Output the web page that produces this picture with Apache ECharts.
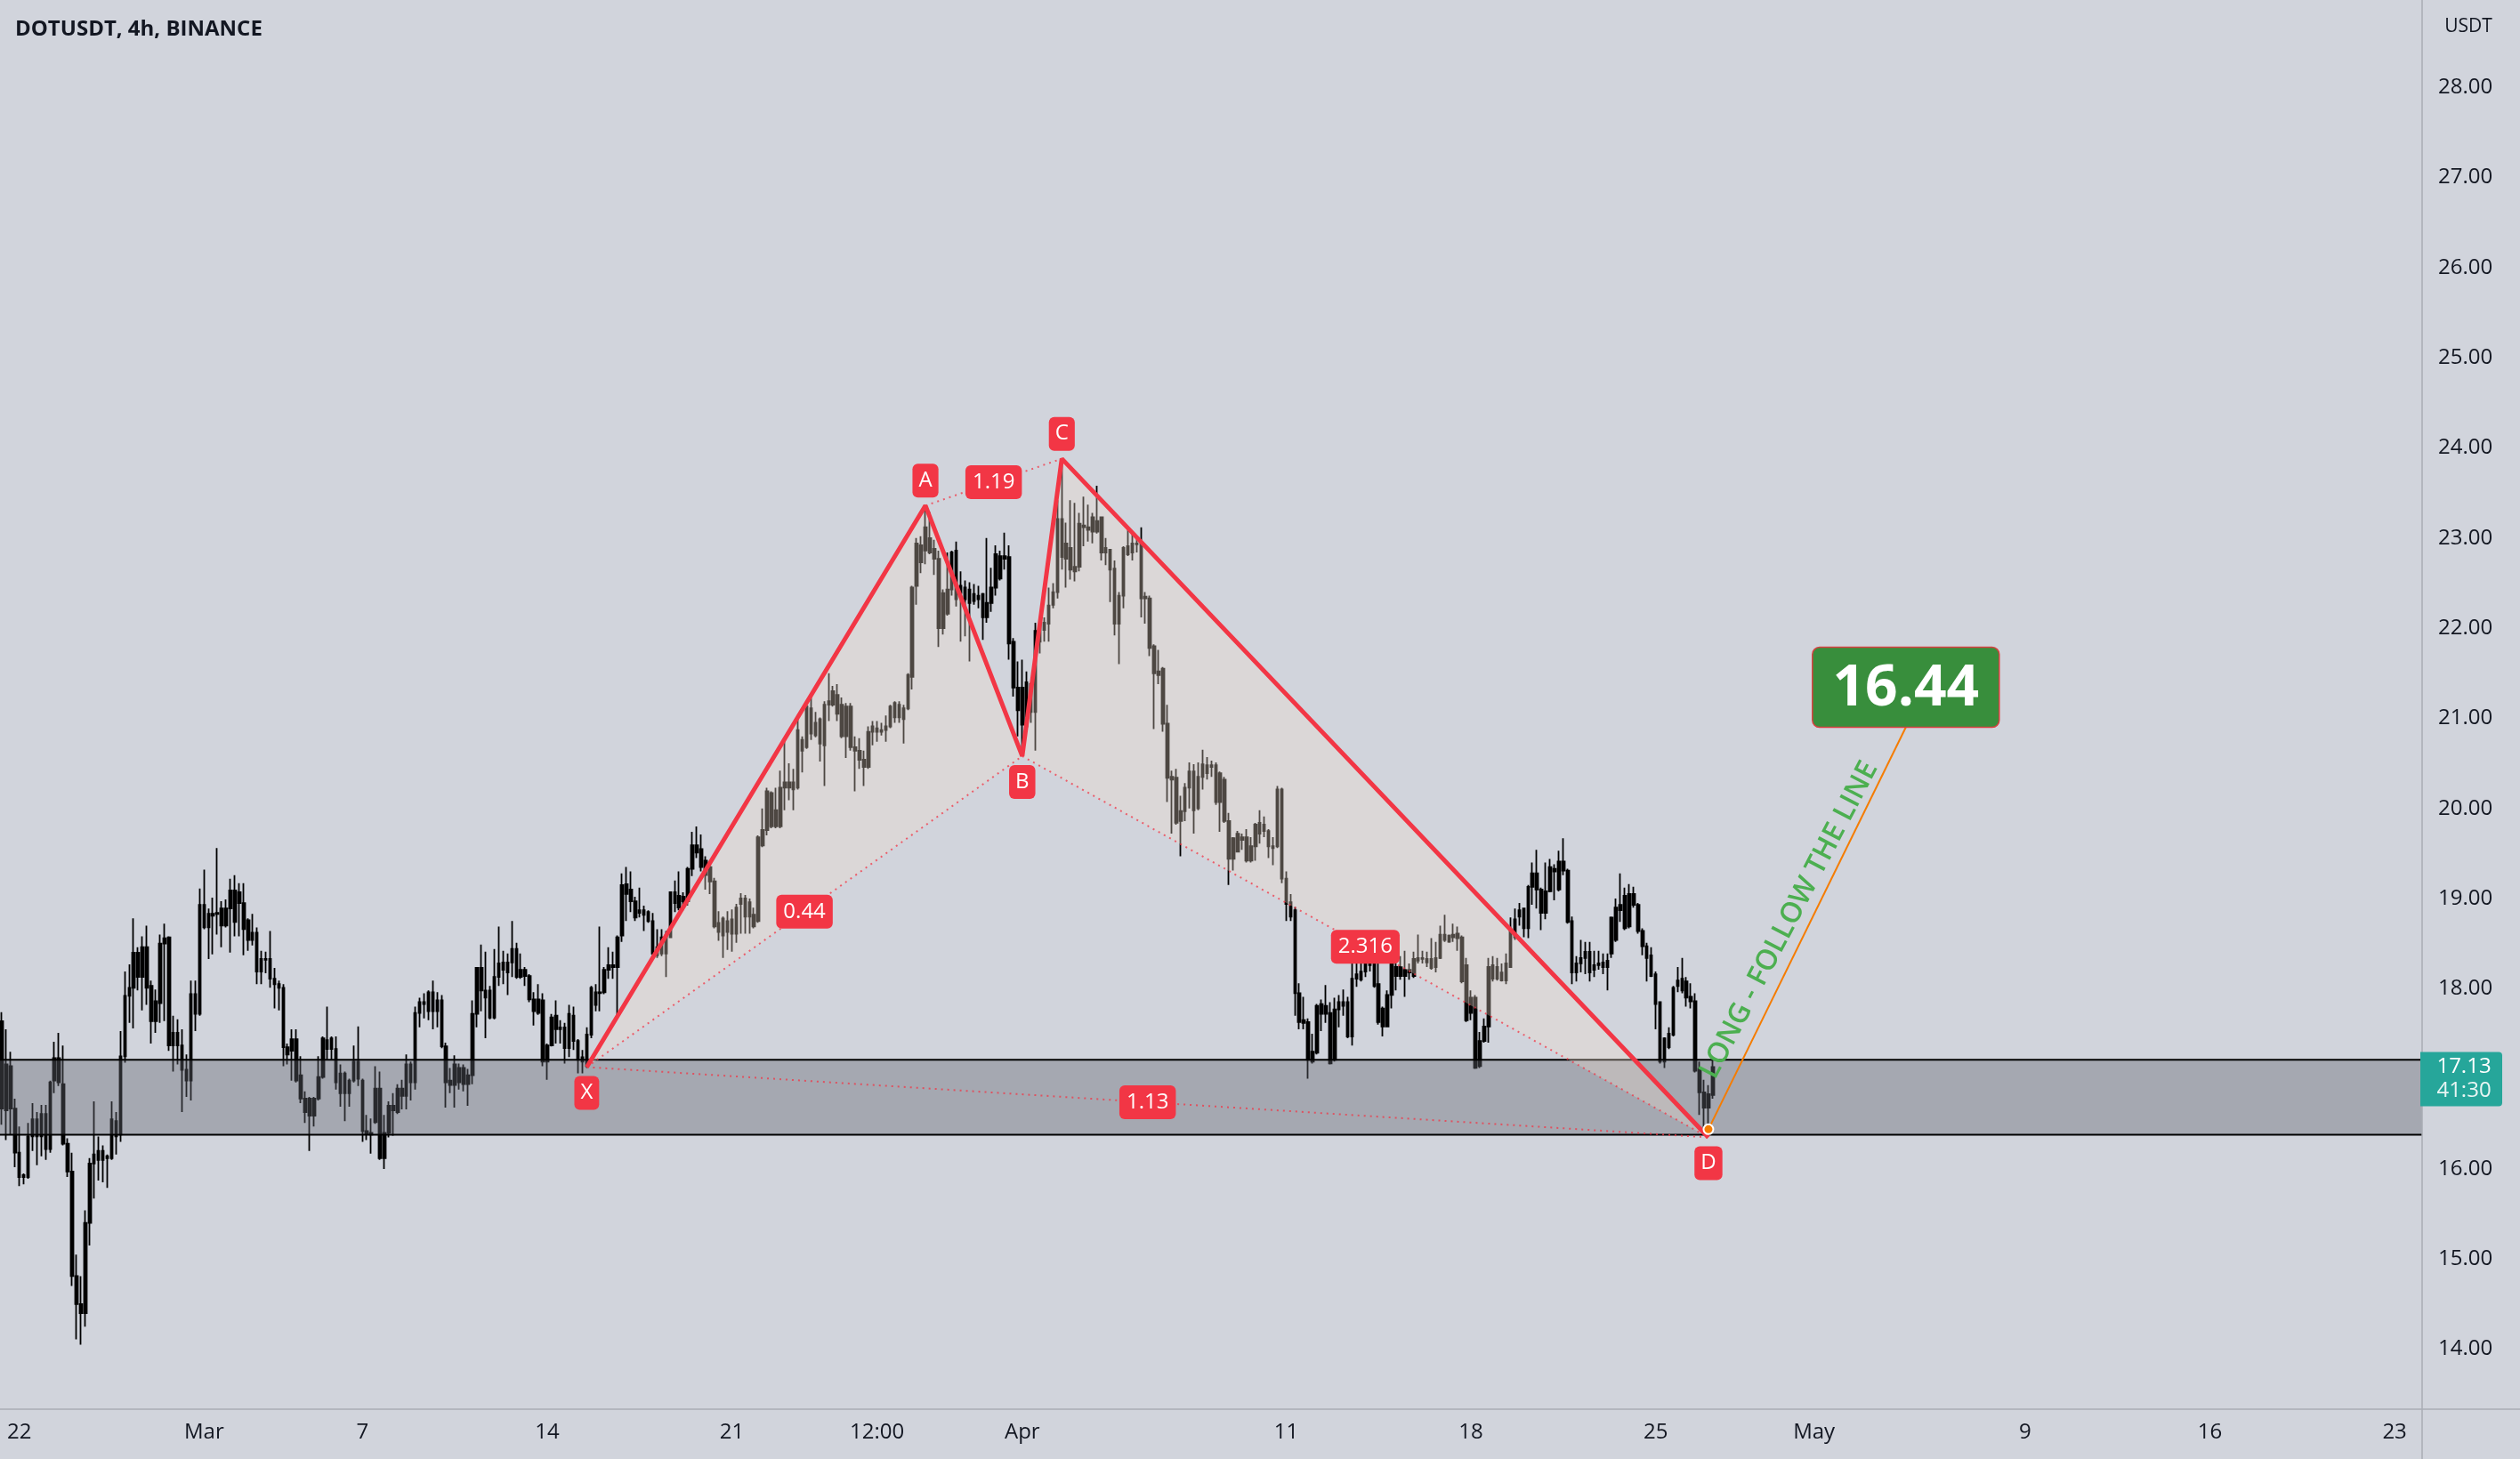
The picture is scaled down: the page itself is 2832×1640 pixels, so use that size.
<!DOCTYPE html>
<html>
<head>
<meta charset="utf-8">
<script src="https://cdn.jsdelivr.net/npm/echarts@6/dist/echarts.min.js"></script>
<style>
html,body{margin:0;padding:0;background:#d1d4dc;}
#chart{width:2832px;height:1640px;}
</style>
</head>
<body>
<div id="chart"></div>
<script>
// ---------------- DATA ----------------
// 4h candles, first one starts 2022-02-21 08:00. Every candle is drawn in black,
// so the body is stored as its top and bottom edge.
const firstCandleTime = '2022-02-21T08:00';
const candleHours = 4;

const highs = [
17.74,17.55,17.30,16.78,16.47,15.95,16.51,16.73,16.63,16.71,
16.71,16.98,17.41,17.51,17.37,16.34,16.18,15.05,14.81,15.54,
16.12,16.75,16.36,16.26,16.16,16.75,16.63,17.53,18.19,18.27,
18.78,18.46,18.58,18.70,18.09,17.99,18.60,18.72,18.58,17.70,
17.66,17.55,17.27,18.09,18.09,19.11,19.32,18.89,19.01,19.56,
18.97,18.99,19.22,19.26,19.17,19.17,18.78,18.83,18.68,18.42,
18.41,18.64,18.23,18.09,18.05,17.39,17.55,17.55,17.25,16.86,
16.80,16.80,17.25,17.47,17.80,17.47,17.47,17.16,17.08,17.00,
17.37,17.58,17.00,16.60,16.56,17.14,17.08,16.60,16.75,16.84,
16.94,16.99,17.27,17.19,17.80,17.90,17.95,17.98,18.09,17.96,
17.93,17.40,17.12,17.26,17.17,17.16,17.11,17.87,18.24,18.49,
18.41,18.03,18.44,18.69,18.42,18.39,18.75,18.51,18.39,18.24,
18.16,17.96,18.05,17.95,17.39,17.72,17.87,17.65,17.62,17.82,
17.80,17.44,17.32,17.57,18.03,18.05,18.69,18.24,18.46,18.41,
18.59,19.28,19.35,19.30,19.02,19.12,18.92,18.87,18.84,18.66,
18.66,18.64,19.08,19.20,19.30,19.07,19.35,19.74,19.80,19.71,
19.47,19.37,19.23,18.86,18.80,18.86,18.88,18.94,19.06,19.04,
19.00,18.90,19.70,20.00,20.23,20.19,20.23,20.42,20.76,20.50,
20.44,20.99,20.80,21.15,21.24,21.07,21.01,21.19,21.50,21.36,
21.38,21.23,21.17,21.17,20.80,20.78,20.64,20.91,20.97,20.97,
20.95,21.03,21.15,21.19,21.19,21.15,21.50,22.47,23.00,23.02,
23.36,23.29,22.98,22.86,22.43,22.84,22.86,22.96,22.63,22.53,
22.51,22.49,22.47,22.39,23.00,22.67,22.92,22.86,23.06,22.92,
21.89,21.63,21.65,21.52,21.40,22.06,22.10,22.12,22.45,22.50,
23.42,23.88,23.17,23.42,23.39,23.28,23.46,23.37,23.28,23.58,
23.24,23.00,22.88,22.75,22.40,22.91,23.10,23.05,23.02,23.12,
22.40,22.36,21.82,21.76,21.57,21.15,20.42,20.44,20.14,20.28,
20.51,20.49,20.51,20.65,20.57,20.53,20.51,20.41,20.35,19.95,
19.68,19.75,19.72,19.77,19.68,19.84,19.98,19.91,19.77,19.68,
20.25,20.23,19.30,19.05,18.91,18.06,17.91,17.67,17.50,17.83,
17.88,18.04,17.85,17.90,17.93,17.99,17.91,18.29,18.28,18.29,
18.48,18.42,18.39,18.41,17.80,17.98,18.29,18.31,18.36,18.42,
18.28,18.41,18.60,18.42,18.41,18.56,18.52,18.70,18.82,18.60,
18.72,18.69,18.59,18.34,17.98,17.93,17.52,17.67,18.34,18.36,
18.34,18.28,18.39,18.79,18.89,18.95,18.90,19.15,19.40,19.54,
19.12,19.40,19.44,19.38,19.53,19.67,19.33,18.80,18.36,18.54,
18.52,18.52,18.42,18.42,18.39,18.39,18.80,19.00,19.28,19.12,
19.16,19.13,18.95,18.67,18.51,18.46,18.19,17.86,17.46,17.57,
18.03,18.24,18.34,18.13,18.06,17.95,17.19,16.99,16.93,17.21];

const bodyTop = [
17.64,17.16,17.14,16.67,16.18,15.93,16.36,16.55,16.55,16.61,
16.61,16.96,17.23,17.23,16.94,16.28,15.97,14.81,14.50,15.40,
16.06,16.16,16.20,16.20,16.14,16.55,16.53,17.25,17.92,18.01,
18.40,18.40,18.46,18.46,18.03,17.86,18.50,18.56,18.57,17.51,
17.51,17.37,17.10,17.94,17.94,18.93,18.93,18.83,18.83,18.84,
18.89,18.89,19.09,19.09,19.07,18.95,18.76,18.62,18.62,18.33,
18.33,18.33,18.11,18.05,18.01,17.35,17.44,17.44,17.04,16.78,
16.78,16.78,17.02,17.45,17.43,17.45,17.33,17.06,17.06,16.98,
17.19,17.19,16.98,16.42,16.40,16.89,16.89,16.40,16.70,16.70,
16.89,16.89,17.16,17.16,17.73,17.85,17.85,17.96,17.96,17.87,
17.87,17.36,16.98,17.16,17.12,17.12,17.04,17.72,18.23,18.23,
17.98,17.98,18.13,18.28,18.29,18.29,18.44,18.44,18.21,18.21,
18.14,17.88,17.88,17.87,17.37,17.68,17.70,17.57,17.57,17.72,
17.70,17.42,17.24,17.49,18.01,17.96,17.96,18.21,18.26,18.26,
18.57,19.15,19.16,19.10,18.97,18.87,18.87,18.85,18.75,18.46,
18.57,18.59,19.07,19.07,19.03,19.02,19.33,19.59,19.59,19.55,
19.42,19.35,19.19,18.73,18.78,18.75,18.77,18.90,19.00,19.00,
18.96,18.82,19.68,19.76,20.19,20.17,19.98,20.23,20.29,20.29,
20.29,20.87,20.76,21.13,21.11,20.95,20.99,21.15,21.19,21.30,
21.26,21.15,21.13,21.13,20.68,20.64,20.54,20.85,20.91,20.89,
20.87,20.91,21.13,21.17,21.15,21.11,21.48,22.45,22.94,22.92,
23.12,23.00,22.88,22.77,22.39,22.43,22.84,22.86,22.47,22.45,
22.43,22.38,22.36,22.38,22.28,22.45,22.82,22.80,22.80,22.79,
21.85,21.34,21.34,21.40,21.38,21.97,22.04,22.06,22.25,22.40,
23.21,23.21,22.94,22.89,22.68,23.16,23.14,23.12,23.23,23.19,
23.23,22.89,22.87,22.66,22.36,22.89,22.91,22.94,22.94,22.94,
22.35,22.33,21.80,21.52,21.55,20.94,20.35,20.34,19.97,20.23,
20.41,20.41,20.35,20.49,20.48,20.48,20.48,20.39,20.32,19.86,
19.67,19.72,19.68,19.68,19.58,19.82,19.84,19.82,19.75,19.58,
20.21,20.21,19.22,18.96,18.87,17.95,17.65,17.63,17.30,17.81,
17.83,17.81,17.73,17.77,17.85,17.85,17.85,18.11,18.16,18.19,
18.37,18.31,18.31,18.05,17.78,17.93,18.28,18.24,18.24,18.21,
18.21,18.33,18.34,18.34,18.33,18.33,18.34,18.60,18.60,18.59,
18.60,18.61,18.57,18.26,17.90,17.90,17.42,17.58,18.24,18.26,
18.24,18.18,18.28,18.64,18.77,18.87,18.89,19.13,19.28,19.28,
19.10,19.08,19.35,19.33,19.41,19.41,19.31,18.75,18.28,18.34,
18.41,18.41,18.26,18.28,18.29,18.31,18.79,18.90,18.93,19.03,
19.05,19.05,18.93,18.64,18.47,18.37,18.16,17.85,17.45,17.50,
18.01,18.09,18.11,18.08,17.91,17.86,17.11,16.85,16.83,17.13];

const bodyBottom = [
16.67,16.65,16.67,16.18,15.91,15.91,15.91,16.36,16.36,16.36,
16.22,16.22,16.98,16.96,16.28,15.97,14.81,14.50,14.40,14.40,
15.40,16.06,16.10,16.10,16.12,16.12,16.36,16.38,17.25,17.92,
18.01,18.13,18.13,18.01,17.64,17.64,17.84,18.50,17.37,17.37,
17.37,17.10,16.98,16.98,17.72,17.72,18.68,18.68,18.81,18.83,
18.70,18.70,18.89,18.74,18.95,18.66,18.54,18.54,18.19,18.19,
18.32,18.11,18.05,18.01,17.35,17.27,17.31,16.98,16.78,16.63,
16.59,16.59,16.78,17.02,17.33,17.33,16.96,16.84,16.84,16.84,
16.98,17.00,16.42,16.39,16.38,16.52,16.12,16.12,16.40,16.65,
16.63,16.81,16.81,16.96,16.96,17.73,17.83,17.75,17.75,17.75,
17.36,16.96,16.93,16.93,16.96,16.94,16.94,17.04,17.72,17.98,
17.90,17.68,17.68,18.13,18.21,18.18,18.29,18.13,18.13,18.14,
17.88,17.75,17.73,17.19,17.19,17.37,17.55,17.55,17.34,17.34,
17.42,17.21,17.19,17.14,17.49,17.82,17.95,17.96,18.21,18.24,
18.24,18.59,19.05,18.97,18.79,18.84,18.82,18.75,18.39,18.37,
18.39,18.39,18.57,18.95,18.90,18.97,18.97,19.33,19.51,19.35,
19.26,19.19,18.69,18.63,18.59,18.63,18.61,18.61,18.94,18.80,
18.80,18.69,18.75,19.59,19.76,19.80,19.80,19.80,20.23,20.23,
20.21,20.23,20.64,20.68,20.83,20.81,20.72,20.70,21.15,21.15,
21.05,20.80,20.80,20.68,20.64,20.54,20.46,20.46,20.85,20.85,
20.85,20.87,20.91,21.01,21.01,20.99,21.11,21.46,22.47,22.73,
22.86,22.84,22.77,22.00,22.00,22.16,22.43,22.32,22.39,22.32,
22.28,22.30,22.32,22.12,22.12,22.28,22.45,22.55,22.77,21.83,
21.34,21.09,20.93,20.91,21.07,21.07,21.85,21.98,22.05,22.26,
22.40,22.79,22.77,22.65,22.63,22.68,23.12,23.09,23.07,23.07,
22.84,22.84,22.65,22.05,22.05,22.36,22.82,22.84,22.93,22.33,
22.33,21.78,21.50,21.48,20.94,20.34,20.32,19.84,19.86,19.97,
20.23,19.98,20.00,20.35,20.39,20.46,20.07,20.07,19.86,19.44,
19.44,19.52,19.65,19.42,19.42,19.58,19.72,19.75,19.58,19.56,
19.58,19.22,18.94,18.80,17.95,17.63,17.62,17.21,17.19,17.29,
17.72,17.72,17.17,17.21,17.77,17.81,17.47,17.47,18.11,18.10,
18.19,18.26,18.03,17.63,17.58,17.58,17.93,18.14,18.14,18.14,
18.18,18.14,18.31,18.33,18.29,18.23,18.24,18.34,18.54,18.52,
18.57,18.56,18.08,17.65,17.73,17.12,17.14,17.42,17.58,18.11,
18.11,18.09,18.09,18.24,18.57,18.80,18.67,18.67,19.13,19.10,
18.84,18.84,19.08,19.30,19.10,19.31,18.74,18.18,18.18,18.28,
18.34,18.18,18.21,18.26,18.24,18.24,18.39,18.54,18.87,18.67,
18.69,18.93,18.64,18.47,18.34,18.14,17.83,17.19,17.19,17.35,
17.49,18.03,17.98,17.90,17.86,17.09,16.85,16.68,16.68,16.82];

const lows = [
16.49,16.32,16.38,16.02,15.81,15.83,15.89,16.20,16.04,16.14,
16.10,16.18,16.84,16.92,16.26,15.91,14.70,14.11,14.05,14.25,
15.15,15.67,15.87,15.85,15.79,16.10,16.16,16.30,17.18,17.62,
17.56,17.98,17.76,17.82,17.39,17.51,17.62,17.64,17.31,17.08,
17.16,16.63,16.80,16.76,17.53,17.70,18.66,18.33,18.38,18.60,
18.46,18.68,18.40,18.58,18.58,18.37,18.42,18.48,18.05,18.05,
18.17,18.01,17.78,17.76,17.14,17.16,16.98,16.96,16.73,16.51,
16.20,16.47,16.76,17.00,17.21,17.21,16.88,16.69,16.53,16.69,
16.96,16.92,16.30,16.32,16.17,16.50,16.10,16.00,16.35,16.37,
16.61,16.66,16.66,16.76,16.88,17.57,17.67,17.65,17.55,17.57,
17.34,16.68,16.84,16.68,16.88,16.86,16.70,16.94,17.57,17.75,
17.45,17.66,17.66,18.03,18.05,17.93,18.13,18.11,18.11,18.03,
17.85,17.59,17.71,17.14,16.99,17.36,17.39,17.39,17.17,17.24,
17.32,17.06,17.06,17.12,17.45,17.75,17.75,17.94,18.11,18.11,
17.70,18.52,18.75,18.85,18.75,18.79,18.64,18.73,18.37,18.34,
18.36,18.13,18.56,18.85,18.87,18.87,18.92,19.25,19.45,19.30,
19.10,19.05,18.67,18.53,18.34,18.43,18.41,18.51,18.61,18.61,
18.61,18.67,18.73,19.57,19.70,19.78,19.78,19.78,19.98,20.09,
19.98,20.21,20.40,20.66,20.76,20.79,20.52,20.25,20.97,21.13,
20.97,20.78,20.56,20.64,20.19,20.44,20.25,20.44,20.70,20.74,
20.81,20.74,20.89,20.95,20.95,20.72,21.09,21.32,22.26,22.61,
22.71,22.82,22.59,21.79,21.93,22.14,22.36,22.24,21.85,21.91,
21.63,22.26,22.22,21.87,22.06,22.18,22.36,22.53,22.65,21.65,
21.24,20.80,20.58,20.89,20.95,20.64,21.72,21.85,21.85,22.22,
22.33,22.65,22.45,22.54,22.52,22.63,22.91,22.96,22.94,23.05,
22.75,22.70,22.29,21.92,21.60,22.22,22.80,22.75,22.84,22.12,
22.05,21.69,20.88,21.38,20.85,20.07,19.72,19.82,19.47,19.86,
20.00,19.72,19.98,20.21,20.32,20.35,20.04,19.74,19.84,19.15,
19.31,19.51,19.54,19.40,19.40,19.42,19.61,19.68,19.45,19.37,
19.56,19.17,18.75,18.75,17.70,17.55,17.55,17.00,17.17,17.27,
17.53,17.62,17.16,17.19,17.57,17.70,17.45,17.37,18.02,18.08,
18.13,18.19,18.01,17.60,17.47,17.57,17.78,17.98,18.10,17.91,
18.10,18.12,18.28,18.28,18.24,18.21,18.18,18.33,18.52,18.51,
18.52,18.42,18.06,17.63,17.65,17.11,17.12,17.40,17.40,18.08,
18.09,18.08,18.05,18.23,18.54,18.70,18.57,18.56,18.93,18.89,
18.65,18.77,19.07,18.98,19.08,19.26,18.72,18.05,18.08,18.18,
18.16,18.08,18.13,18.21,18.16,17.98,18.34,18.52,18.74,18.65,
18.67,18.90,18.61,18.37,18.08,18.13,17.55,17.17,17.12,17.33,
17.47,17.96,17.95,17.80,17.78,17.07,16.60,16.42,16.46,16.78];

const lastPrice = 17.13;
const countdown = '41:30';

// price scale tick labels (17.00 is hidden under the last-price tag)
const yTickValues = [14, 15, 16, 18, 19, 20, 21, 22, 23, 24, 25, 26, 27, 28];
// time scale tick labels
const xTickTimes = ['2022-02-22T00:00','2022-03-01T00:00','2022-03-07T00:00','2022-03-14T00:00',
  '2022-03-21T00:00','2022-03-26T12:00','2022-04-01T00:00','2022-04-11T00:00','2022-04-18T00:00',
  '2022-04-25T00:00','2022-05-01T00:00','2022-05-09T00:00','2022-05-16T00:00','2022-05-23T00:00'];
const xTickLabels = ['22','Mar','7','14','21','12:00','Apr','11','18','25','May','9','16','23'];

// XABCD pattern
const patternNames  = ['X', 'A', 'B', 'C', 'D'];
const patternTimes  = ['2022-03-15T12:00','2022-03-28T08:00','2022-04-01T00:00','2022-04-02T12:00','2022-04-27T00:00'];
const patternPrices = [17.13, 23.36, 20.58, 23.88, 16.35];
const ratioFrom   = [0, 1, 2, 0];
const ratioTo     = [2, 3, 4, 4];
const ratioLabels = ['0.44', '1.19', '2.316', '1.13'];

// support zone
const zoneTop = 17.21;
const zoneBottom = 16.38;

// projection line + target tag + note
const entryTime = '2022-04-27T00:00';
const entryPrice = 16.44;
const targetTime = '2022-05-04T11:30';
const targetPrice = 20.90;
const targetText = '16.44';
const noteText = 'LONG - FOLLOW THE LINE';
const noteTime = '2022-04-30T01:30';
const notePrice = 18.76;

// visible window
const viewStartDay = -0.7316, viewEndDay = 91.041;
const viewMinPrice = 13.334, viewMaxPrice = 28.970;

// ---------------- helpers ----------------
const FONT = '"Open Sans", "Noto Sans", sans-serif';
const ORIGIN = Date.UTC(2022, 1, 22);
const dayOf = s => (Date.parse(s + ':00Z') - ORIGIN) / 86400000;
const firstDay = dayOf(firstCandleTime);
const stepDay = candleHours / 24;

const candleData = highs.map((h, i) => [firstDay + i * stepDay, bodyBottom[i], bodyTop[i], lows[i], h]);
const xTickDays = xTickTimes.map(dayOf);
const patternDays = patternTimes.map(dayOf);
const patternPts = patternDays.map((d, i) => [d, patternPrices[i]]);

const RED = '#f23645';

const chart = echarts.init(document.getElementById('chart'), null, {renderer: 'canvas'});

const option = {
  animation: false,
  backgroundColor: '#d1d4dc',
  textStyle: {fontFamily: FONT},
  grid: {left: 0, right: 110, top: 0, bottom: 56, containLabel: false},
  xAxis: {
    type: 'value', min: viewStartDay, max: viewEndDay,
    axisLine: {show: false}, axisTick: {show: false}, splitLine: {show: false},
    axisLabel: {
      customValues: xTickDays,
      formatter: v => { const k = xTickDays.findIndex(t => Math.abs(t - v) < 1e-6); return k >= 0 ? xTickLabels[k] : ''; },
      fontSize: 24, color: '#131722', fontFamily: FONT, margin: 14
    }
  },
  yAxis: {
    type: 'value', position: 'right', min: viewMinPrice, max: viewMaxPrice, scale: true,
    axisLine: {show: false}, axisTick: {show: false}, splitLine: {show: false},
    axisLabel: {
      customValues: yTickValues,
      formatter: v => v.toFixed(2),
      fontSize: 24, color: '#131722', fontFamily: FONT, margin: 18
    }
  },
  series: [
    {
      type: 'candlestick', name: 'DOTUSDT', data: candleData,
      encode: {x: 0, y: [1, 2, 3, 4]},
      barWidth: 3,
      itemStyle: {color: '#000', color0: '#000', borderColor: '#000', borderColor0: '#000', borderWidth: 1.8},
      z: 2
    },
    { // zone
      type: 'custom', name: 'zone', z: 3,
      data: [[viewStartDay, zoneTop, viewEndDay, zoneBottom]],
      encode: {x: [0, 2], y: [1, 3]},
      renderItem: (params, api) => {
        const a = api.coord([api.value(0), api.value(1)]);
        const b = api.coord([api.value(2), api.value(3)]);
        return {type: 'group', children: [
          {type: 'rect', shape: {x: a[0], y: a[1], width: b[0] - a[0], height: b[1] - a[1]}, style: {fill: 'rgba(100,102,112,0.4)'}},
          {type: 'line', shape: {x1: a[0], y1: a[1], x2: b[0], y2: a[1]}, style: {stroke: '#000', lineWidth: 2}},
          {type: 'line', shape: {x1: a[0], y1: b[1], x2: b[0], y2: b[1]}, style: {stroke: '#000', lineWidth: 2}}
        ]};
      }
    },
    { // triangle fills XAB, BCD
      type: 'custom', name: 'fills', z: 4,
      data: [[0, 1, 2], [2, 3, 4]].map(t => t.flatMap(k => patternPts[k])),
      encode: {x: [0, 2, 4], y: [1, 3, 5]},
      renderItem: (params, api) => {
        const pts = [0, 1, 2].map(k => api.coord([api.value(2 * k), api.value(2 * k + 1)]));
        return {type: 'polygon', shape: {points: pts}, style: {fill: 'rgba(240,222,205,0.32)'}};
      }
    },
    { // dotted ratio lines
      type: 'custom', name: 'ratios', z: 5,
      data: ratioFrom.map((f, i) => [...patternPts[f], ...patternPts[ratioTo[i]]]),
      encode: {x: [0, 2], y: [1, 3]},
      renderItem: (params, api) => {
        const a = api.coord([api.value(0), api.value(1)]);
        const b = api.coord([api.value(2), api.value(3)]);
        return {type: 'line', shape: {x1: a[0], y1: a[1], x2: b[0], y2: b[1]},
          style: {stroke: 'rgba(242,54,69,0.75)', lineWidth: 2, lineDash: [2, 5]}};
      }
    },
    { // pattern legs
      type: 'line', name: 'XABCD', z: 6, data: patternPts,
      symbol: 'none', lineStyle: {color: RED, width: 5}, silent: true
    },
    { // projection line
      type: 'line', name: 'projection', z: 6,
      data: [[dayOf(entryTime), entryPrice], [dayOf(targetTime), targetPrice]],
      symbol: 'none', lineStyle: {color: '#f57c00', width: 2}, silent: true
    },
    { // entry dot
      type: 'scatter', z: 7, data: [[dayOf(entryTime), entryPrice]],
      symbolSize: 11, itemStyle: {color: '#f57c00', borderColor: '#ffffff', borderWidth: 2, opacity: 1}
    },
    { // point labels
      type: 'custom', name: 'pointLabels', z: 9,
      data: patternPts.map((p, i) => [p[0], p[1], i]),
      encode: {x: 0, y: 1},
      renderItem: (params, api) => {
        const i = api.value(2);
        const c = api.coord([api.value(0), api.value(1)]);
        const prev = patternPrices[i - 1], next = patternPrices[i + 1];
        const ref = prev !== undefined ? prev : next;
        const isHigh = patternPrices[i] > ref;
        return {type: 'text', x: c[0], y: c[1] + (isHigh ? -28 : 29),
          style: {text: patternNames[i], x: 0, y: 0, align: 'center', verticalAlign: 'middle',
            fill: '#fff', fontSize: 24, fontFamily: FONT, backgroundColor: RED, padding: [7, 7, 7, 7], borderRadius: 6}};
      }
    },
    { // ratio labels
      type: 'custom', name: 'ratioLabels', z: 9,
      data: ratioFrom.map((f, i) => [(patternDays[f] + patternDays[ratioTo[i]]) / 2, (patternPrices[f] + patternPrices[ratioTo[i]]) / 2, i]),
      encode: {x: 0, y: 1},
      renderItem: (params, api) => {
        const c = api.coord([api.value(0), api.value(1)]);
        return {type: 'text', x: c[0], y: c[1],
          style: {text: ratioLabels[api.value(2)], x: 0, y: 0, align: 'center', verticalAlign: 'middle',
            fill: '#fff', fontSize: 24, fontFamily: FONT, backgroundColor: RED, padding: [7, 8, 7, 8], borderRadius: 6}};
      }
    },
    { // target tag
      type: 'custom', name: 'target', z: 9,
      data: [[dayOf(targetTime), targetPrice]],
      encode: {x: 0, y: 1},
      renderItem: (params, api) => {
        const c = api.coord([api.value(0), api.value(1)]);
        const w = 210, h = 90;
        return {type: 'group', children: [
          {type: 'rect', shape: {x: c[0] - w / 2, y: c[1] - h, width: w, height: h, r: 8},
            style: {fill: '#388e3c', stroke: '#d84040', lineWidth: 1.5}},
          {type: 'text', x: c[0], y: c[1] - h / 2 + 2,
            style: {text: targetText, x: 0, y: 0, align: 'center', verticalAlign: 'middle',
              fill: '#fff', fontSize: 64, fontWeight: 'bold', fontFamily: FONT}}
        ]};
      }
    },
    { // note
      type: 'custom', name: 'note', z: 8,
      data: [[dayOf(noteTime), notePrice]],
      encode: {x: 0, y: 1},
      renderItem: (params, api) => {
        const c = api.coord([api.value(0), api.value(1)]);
        return {type: 'text', x: c[0], y: c[1], rotation: 62.5 * Math.PI / 180,
          style: {text: noteText, x: 0, y: 0, align: 'center', verticalAlign: 'middle',
            fill: '#4caf50', fontSize: 32, fontWeight: 600, fontFamily: FONT}};
      }
    }
  ]
};

chart.setOption(option);

const py = chart.convertToPixel({yAxisIndex: 0}, lastPrice);
const axisX = 2722;
chart.setOption({
  graphic: [
    {type: 'text', x: 17, y: 33, style: {text: 'DOTUSDT, 4h, BINANCE', fill: '#131722', fontSize: 24, fontWeight: 'bold', fontFamily: FONT, verticalAlign: 'middle'}, z: 20},
    {type: 'text', x: 2774, y: 30, style: {text: 'USDT', fill: '#131722', fontSize: 21, fontFamily: FONT, align: 'center', verticalAlign: 'middle'}, z: 20},
    {type: 'line', shape: {x1: axisX, y1: 0, x2: axisX, y2: 1640}, style: {stroke: '#a9acb5', lineWidth: 1.5}, z: 20},
    {type: 'line', shape: {x1: 0, y1: 1584, x2: 2832, y2: 1584}, style: {stroke: '#a9acb5', lineWidth: 1.5}, z: 20},
    {type: 'rect', shape: {x: axisX - 2, y: py - 17, width: 92, height: 61, r: [0, 4, 4, 0]}, style: {fill: '#26a69a'}, z: 21},
    {type: 'text', x: 2769, y: py, style: {text: lastPrice.toFixed(2), fill: '#fff', fontSize: 24, fontFamily: FONT, align: 'center', verticalAlign: 'middle'}, z: 22},
    {type: 'text', x: 2769, y: py + 27, style: {text: countdown, fill: '#e8f5f3', fontSize: 24, fontFamily: FONT, align: 'center', verticalAlign: 'middle'}, z: 22}
  ]
});
</script>
</body>
</html>
